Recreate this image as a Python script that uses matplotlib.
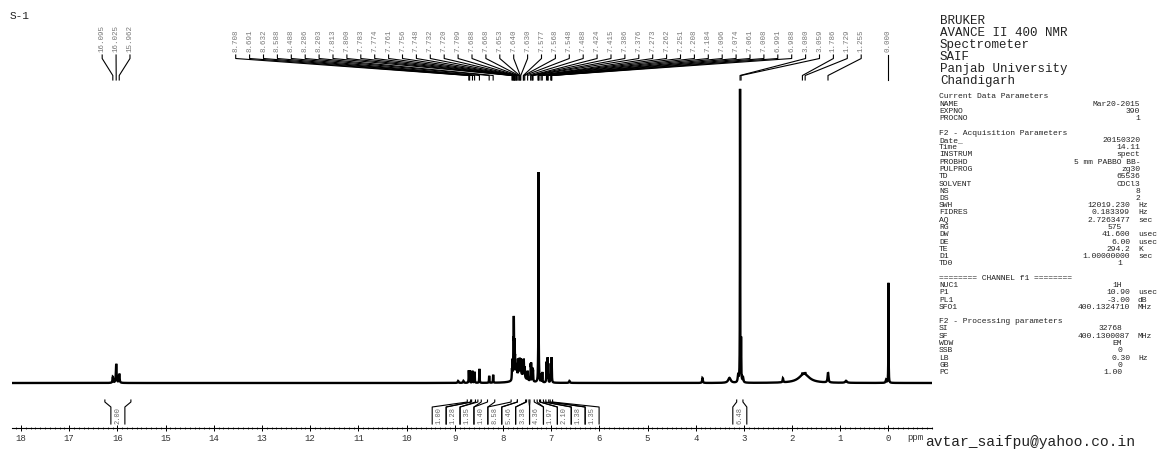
import numpy as np
import matplotlib
matplotlib.use("Agg")
import matplotlib.pyplot as plt
from matplotlib import transforms
from matplotlib.ticker import MultipleLocator

plt.rcParams['font.family'] = ['Liberation Mono', 'DejaVu Sans Mono']

# picked peaks (ppm) with the heights
label_ppm = [16.095, 16.025, 15.962,
             8.708, 8.691, 8.632, 8.588, 8.488, 8.286, 8.203,
             7.813, 7.800, 7.783, 7.774, 7.761, 7.756, 7.748, 7.732, 7.720, 7.709,
             7.688, 7.668, 7.653, 7.640, 7.630, 7.577, 7.568, 7.548, 7.488,
             7.424, 7.415, 7.386, 7.376, 7.273, 7.262, 7.251, 7.208, 7.184,
             7.096, 7.074, 7.061, 7.008, 6.991, 6.988,
             3.080, 3.059, 1.786, 1.729, 1.255, 0.000]
label_height = [6, 19, 9,
                12, 12, 12, 11, 14, 7, 8,
                10, 18, 32, 55, 26, 20, 16, 12, 11, 10,
                17, 13, 15, 13, 14, 14, 15, 10, 9,
                15, 16, 12, 10, 5, 209, 5, 8, 10,
                20, 24, 6, 18, 16, 12,
                292, 40, 2, 2, 10, 100]

# unpicked features: small bumps and broad humps
extra_ppm = [7.62, 8.93, 8.82, 6.62, 3.86, 3.30, 3.12, 3.02, 2.19, 1.75, 0.88, 0.05]
extra_height = [8, 2, 2, 2, 5, 5, 7, 5, 4, 9, 2, 3]
extra_width = [0.10, 0.01, 0.01, 0.01, 0.008, 0.03, 0.01, 0.01, 0.008, 0.13, 0.02, 0.01]

# integrals: region limits (ppm) and printed values
integral_from = [16.26, 8.74, 8.65, 8.52, 8.32, 7.83, 7.70, 7.51, 7.44, 7.29, 7.22, 7.11, 7.02, 3.15]
integral_to = [15.72, 8.67, 8.57, 8.45, 8.17, 7.70, 7.53, 7.46, 7.35, 7.24, 7.16, 7.05, 6.97, 3.02]
integral_value = ["2.00", "1.00", "1.28", "1.35", "1.40", "8.58", "5.46",
                  "3.38", "4.36", "1.97", "2.10", "1.38", "1.35", "6.48"]

xticks = list(range(0, 19))

header_lines = ["BRUKER", "AVANCE II 400 NMR", "Spectrometer", "SAIF",
                "Panjab University", "Chandigarh"]

# (name, value, unit); None = blank row
param_rows = [
    ("Current Data Parameters", "", ""),
    ("NAME", "Mar20-2015", ""),
    ("EXPNO", "390", ""),
    ("PROCNO", "1", ""),
    None,
    ("F2 - Acquisition Parameters", "", ""),
    ("Date_", "20150320", ""),
    ("Time", "14.11", ""),
    ("INSTRUM", "spect", ""),
    ("PROBHD", "5 mm PABBO BB-", ""),
    ("PULPROG", "zg30", ""),
    ("TD", "65536", ""),
    ("SOLVENT", "CDCl3", ""),
    ("NS", "8", ""),
    ("DS", "2", ""),
    ("SWH", "12019.230", "Hz"),
    ("FIDRES", "0.183399", "Hz"),
    ("AQ", "2.7263477", "sec"),
    ("RG", "575", ""),
    ("DW", "41.600", "usec"),
    ("DE", "6.00", "usec"),
    ("TE", "294.2", "K"),
    ("D1", "1.00000000", "sec"),
    ("TD0", "1", ""),
    None,
    ("======== CHANNEL f1 ========", "", ""),
    ("NUC1", "1H", ""),
    ("P1", "10.90", "usec"),
    ("PL1", "-3.00", "dB"),
    ("SFO1", "400.1324710", "MHz"),
    None,
    ("F2 - Processing parameters", "", ""),
    ("SI", "32768", ""),
    ("SF", "400.1300087", "MHz"),
    ("WDW", "EM", ""),
    ("SSB", "0", ""),
    ("LB", "0.30", "Hz"),
    ("GB", "0", ""),
    ("PC", "1.00", ""),
]

W, H = 1175, 458
fig = plt.figure(figsize=(W / 100, H / 100), dpi=100)

x_left, x_right = 18.187, -0.903
ax = fig.add_axes([12 / W, 1 - 428 / H, 920 / W, 428 / H])
ax.set_xlim(x_left, x_right)
ax.set_ylim(-45, 383)
px_per_ppm = 920 / (x_left - x_right)

# spectrum = sum of lorentzian lines
ppm = np.arange(x_right, x_left, 0.0005)[::-1]
spec = np.zeros_like(ppm)
for p, h in zip(label_ppm, label_height):
    w = 0.003 if h > 90 else (0.008 if p > 15 else 0.004)
    if p == 1.255:
        w = 0.01
    spec += h * w ** 2 / ((ppm - p) ** 2 + w ** 2)
for p, h, w in zip(extra_ppm, extra_height, extra_width):
    spec += h * w ** 2 / ((ppm - p) ** 2 + w ** 2)
ax.plot(ppm, spec, color='black', lw=1.7, solid_joinstyle='miter')

for s in ['top', 'left', 'right']:
    ax.spines[s].set_visible(False)
ax.spines['bottom'].set_linewidth(0.8)
ax.patch.set_visible(False)
ax.set_yticks([])
ax.set_xticks(xticks)
ax.set_xticklabels([str(t) for t in xticks])
ax.xaxis.set_minor_locator(MultipleLocator(0.1))
ax.tick_params(axis='x', which='major', direction='inout', length=4, width=0.7,
               labelsize=6.5, pad=2.5, labelcolor='#333333')
ax.tick_params(axis='x', which='minor', direction='inout', length=2, width=0.5)

trans = transforms.blended_transform_factory(ax.transData, fig.transFigure)


def fy(y):
    return 1 - y / H


def spread(pos, gap):
    # pos in descending ppm; returns label positions without overlap
    xs = [-p for p in pos]
    clusters = [[x] for x in xs]
    merged = True
    while merged:
        merged = False
        out = []
        for c in clusters:
            if out:
                prev = out[-1]
                prev_end = np.mean(prev) + (len(prev) - 1) / 2 * gap
                cur_start = np.mean(c) - (len(c) - 1) / 2 * gap
                if cur_start - prev_end < gap:
                    out[-1] = prev + c
                    merged = True
                    continue
            out.append(c)
        clusters = out
    res = []
    for c in clusters:
        m, n = np.mean(c), len(c)
        res += [m + (k - (n - 1) / 2) * gap for k in range(n)]
    return [-r for r in res]


# peak labels with leader lines
gap = 13.9 / px_per_ppm
lab_x = spread(label_ppm, gap)
for p, lx in zip(label_ppm, lab_x):
    ax.text(lx, fy(52), f"{p:.3f}", rotation=90, ha='center', va='bottom',
            fontsize=5.4, color='#777777', transform=trans, clip_on=False)
    ax.plot([lx, lx, p, p], [fy(55), fy(58.5), fy(75.5), fy(80)],
            color='black', lw=0.8, transform=trans, clip_on=False)

# integrals under the spectrum
mids = [(a + b) / 2 for a, b in zip(integral_from, integral_to)]
int_x = spread(mids, gap)
half = 7 / px_per_ppm
for a, b, c, v in zip(integral_from, integral_to, int_x, integral_value):
    ax.plot([a, a, c + half, c + half], [fy(400), fy(402), fy(407), fy(424)],
            color='black', lw=0.8, transform=trans, clip_on=False)
    ax.plot([b, b, c - half, c - half], [fy(400), fy(402), fy(407), fy(424)],
            color='black', lw=0.8, transform=trans, clip_on=False)
    ax.text(c, fy(416), v, rotation=90, ha='center', va='center',
            fontsize=5, color='#666666', transform=trans, clip_on=False)

ax.text(-0.55, fy(437), "ppm", ha='center', va='center', fontsize=6.5,
        color='#333333', transform=trans)

fig.text(10 / W, fy(16), "S-1", ha='left', va='center', fontsize=8, color='#222222')

for i, line in enumerate(header_lines):
    fig.text(940 / W, fy(21 + 12 * i), line, ha='left', va='center',
             fontsize=9, color='#222222')

pfs = 5.8
for i, row in enumerate(param_rows):
    if row is None:
        continue
    name, val, unit = row
    y = fy(97 + 7.25 * i)
    fig.text(939 / W, y, name, ha='left', va='center', fontsize=pfs, color='#222222')
    if val:
        if i <= 14:
            xr = 1140
        elif unit:
            xr = 1130
        else:
            xr = 1122
        fig.text(xr / W, y, val, ha='right', va='center', fontsize=pfs, color='#222222')
    if unit:
        fig.text(1138 / W, y, unit, ha='left', va='center', fontsize=pfs, color='#222222')

fig.text(1030 / W, fy(442), "avtar_saifpu@yahoo.co.in", ha='center', va='center',
         fontsize=10.5, color='#222222')

fig.savefig("out.png", dpi=100)
